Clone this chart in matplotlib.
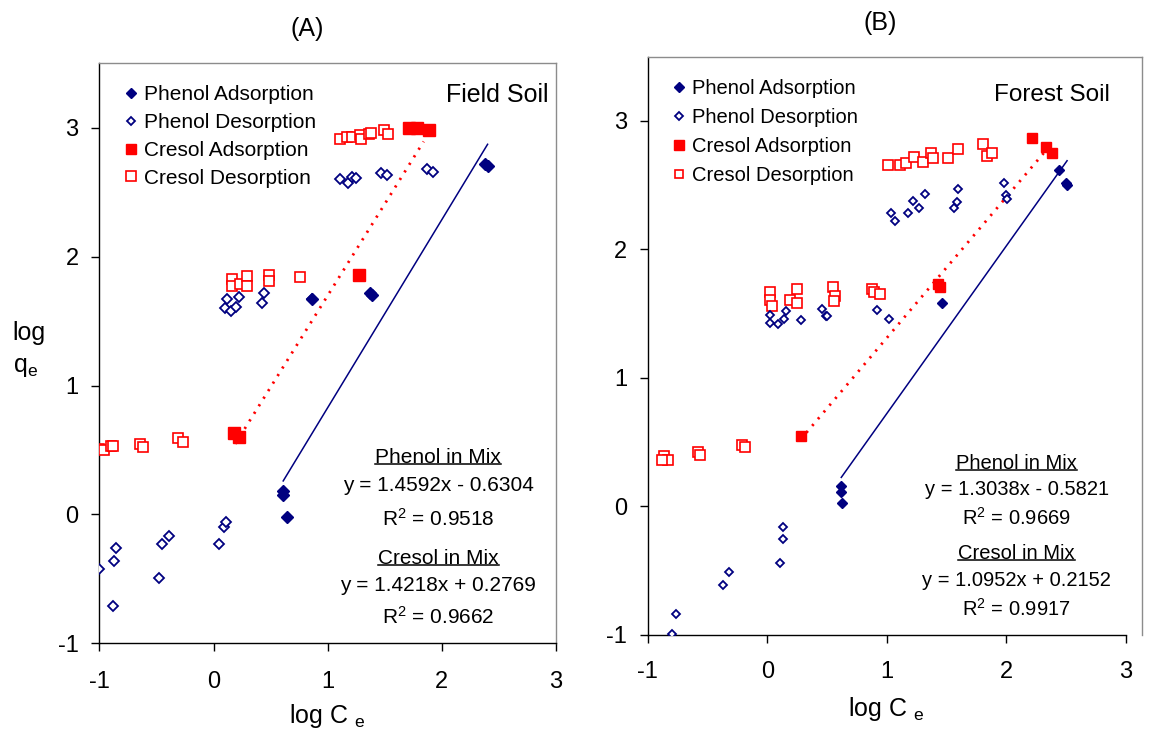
import numpy as np
import matplotlib
matplotlib.use('Agg')
import matplotlib.pyplot as plt
from matplotlib.lines import Line2D

plt.rcParams['font.family'] = ['Liberation Sans', 'DejaVu Sans']
plt.rcParams['mathtext.fontset'] = 'custom'
plt.rcParams['mathtext.rm'] = 'Liberation Sans'
plt.rcParams['mathtext.it'] = 'Liberation Sans:italic'
plt.rcParams['axes.unicode_minus'] = False

NAVY = '#000080'
RED = '#ff0000'

# ---- (A) Field soil ----
a_phenol_ads_x = [2.38, 2.40, 1.37, 1.39, 0.86, 0.61, 0.61, 0.64]
a_phenol_ads_y = [2.72, 2.70, 1.72, 1.70, 1.67, 0.18, 0.15, -0.02]

a_phenol_des_x = [1.11, 1.18, 1.21, 1.25, 1.47, 1.52, 1.87, 1.92,
                  0.12, 0.10, 0.15, 0.20, 0.22, 0.44, 0.42, 0.86,
                  -1.00, -0.85, -0.87, -0.88, -0.48, -0.45, -0.39, 0.05, 0.09, 0.11]
a_phenol_des_y = [2.60, 2.57, 2.62, 2.61, 2.65, 2.63, 2.68, 2.66,
                  1.67, 1.60, 1.58, 1.61, 1.69, 1.72, 1.64, 1.67,
                  -0.42, -0.26, -0.36, -0.71, -0.49, -0.23, -0.17, -0.23, -0.10, -0.06]

a_cresol_ads_x = [0.18, 0.22, 1.27, 1.71, 1.78, 1.89]
a_cresol_ads_y = [0.63, 0.60, 1.86, 3.00, 3.00, 2.98]

a_cresol_des_x = [1.11, 1.17, 1.21, 1.28, 1.29, 1.36, 1.38, 1.49, 1.53,
                  0.16, 0.16, 0.23, 0.29, 0.29, 0.49, 0.49, 0.76,
                  -1.00, -0.96, -0.90, -0.88, -0.64, -0.62, -0.31, -0.27]
a_cresol_des_y = [2.91, 2.93, 2.93, 2.94, 2.91, 2.95, 2.96, 2.98, 2.95,
                  1.83, 1.77, 1.79, 1.85, 1.77, 1.86, 1.81, 1.84,
                  0.51, 0.50, 0.53, 0.53, 0.55, 0.52, 0.59, 0.56]

# fitted lines: slope, intercept, x range
a_phenol_fit = (1.4592, -0.6304, [0.61, 2.40])
a_cresol_fit = (1.4218, 0.2769, [0.19, 1.84])
a_phenol_r2 = 0.9518
a_cresol_r2 = 0.9662

# ---- (B) Forest soil ----
b_phenol_ads_x = [2.44, 2.50, 2.51, 1.46, 0.62, 0.62, 0.63]
b_phenol_ads_y = [2.62, 2.52, 2.50, 1.58, 0.16, 0.11, 0.03]

b_phenol_des_x = [1.04, 1.07, 1.18, 1.22, 1.27, 1.32, 1.56, 1.59, 1.60, 1.98, 2.00, 2.01,
                  0.02, 0.02, 0.09, 0.14, 0.16, 0.28, 0.46, 0.49, 0.50, 0.92, 1.02,
                  0.13, 0.13, 0.11, -0.32, -0.37, -0.76, -0.80]
b_phenol_des_y = [2.28, 2.22, 2.28, 2.38, 2.32, 2.43, 2.32, 2.37, 2.47, 2.52, 2.42, 2.39,
                  1.49, 1.43, 1.42, 1.46, 1.52, 1.45, 1.54, 1.48, 1.48, 1.53, 1.46,
                  -0.16, -0.25, -0.44, -0.51, -0.61, -0.84, -0.99]

b_cresol_ads_x = [2.22, 2.33, 2.38, 1.43, 1.45, 0.28]
b_cresol_ads_y = [2.87, 2.80, 2.75, 1.73, 1.71, 0.55]

b_cresol_des_x = [1.01, 1.11, 1.16, 1.23, 1.30, 1.37, 1.39, 1.51, 1.60, 1.81, 1.84, 1.88,
                  0.02, 0.02, 0.04, 0.19, 0.25, 0.25, 0.55, 0.57, 0.56, 0.88, 0.89, 0.94,
                  -0.86, -0.83, -0.88, -0.58, -0.56, -0.21, -0.19]
b_cresol_des_y = [2.66, 2.66, 2.67, 2.72, 2.68, 2.75, 2.71, 2.71, 2.78, 2.82, 2.73, 2.75,
                  1.67, 1.61, 1.56, 1.61, 1.69, 1.58, 1.71, 1.64, 1.60, 1.69, 1.67, 1.65,
                  0.39, 0.36, 0.36, 0.42, 0.40, 0.48, 0.46]

b_phenol_fit = (1.3038, -0.5821, [0.62, 2.51])
b_cresol_fit = (1.0952, 0.2152, [0.28, 2.33])
b_phenol_r2 = 0.9669
b_cresol_r2 = 0.9917

x_ticks = [-1, 0, 1, 2, 3]
y_ticks = [-1, 0, 1, 2, 3]
tick_labels = ['-1', '0', '1', '2', '3']


def fmt_eq(slope, icpt):
    sign = '-' if icpt < 0 else '+'
    return f'y = {slope:.4f}x {sign} {abs(icpt):.4f}'


fig = plt.figure(figsize=(11.54, 7.43), dpi=100)
ax_a = fig.add_axes([0.0861, 0.1342, 0.3958, 0.7806])
ax_b = fig.add_axes([0.5613, 0.1454, 0.4286, 0.7783])

underlined = []


def draw_panel(ax, pa_x, pa_y, pd_x, pd_y, ca_x, ca_y, cd_x, cd_y,
               pfit, cfit, pr2, cr2, xmax, fs, soil, soil_x, soil_y,
               leg_xy, leg_space, eq_x, eq_y, msz, xpad):
    # fitted lines
    xs = np.array(pfit[2])
    ax.plot(xs, pfit[0] * xs + pfit[1], color=NAVY, lw=1.1, zorder=2)
    xs = np.array(cfit[2])
    ax.plot(xs, cfit[0] * xs + cfit[1], color=RED, lw=2.0, ls=(0, (0.8, 2.4)), zorder=2)

    ax.plot(cd_x, cd_y, ls='none', marker='s', ms=7.8 * msz, mfc='white', mec=RED, mew=1.2,
            label='Cresol Desorption', zorder=3)
    ax.plot(pd_x, pd_y, ls='none', marker='D', ms=5.0 * msz, mfc='white', mec=NAVY, mew=1.3,
            label='Phenol Desorption', zorder=4)
    ax.plot(ca_x, ca_y, ls='none', marker='s', ms=8.5 * msz, color=RED,
            label='Cresol Adsorption', zorder=5)
    ax.plot(pa_x, pa_y, ls='none', marker='D', ms=6.0 * msz, color=NAVY,
            label='Phenol Adsorption', zorder=6)

    ax.set_xlim(-1, xmax)
    ax.set_ylim(-1, 3.5)
    ax.set_xticks(x_ticks)
    ax.set_xticklabels(tick_labels)
    ax.set_yticks(y_ticks)
    ax.set_yticklabels(tick_labels)
    ax.tick_params(axis='both', direction='out', length=6, width=1, labelsize=17, color='black')
    ax.tick_params(axis='x', pad=xpad)
    ax.tick_params(axis='y', pad=9)
    for side in ['left', 'bottom']:
        ax.spines[side].set_color('black')
        ax.spines[side].set_linewidth(1.0)
    for side in ['top', 'right']:
        ax.spines[side].set_color('#8c8c8c')
        ax.spines[side].set_linewidth(1.0)
    ax.spines['bottom'].set_bounds(-1, 3)

    h, l = ax.get_legend_handles_labels()
    order = [3, 1, 2, 0]
    ax.legend([h[i] for i in order], [l[i] for i in order], loc='upper left',
              bbox_to_anchor=leg_xy, frameon=False, fontsize=fs, borderpad=0,
              borderaxespad=0, handlelength=0.6, handletextpad=0.35,
              labelspacing=leg_space, markerscale=0.9)

    ax.text(soil_x, soil_y, soil, transform=ax.transAxes, ha='right', va='center', fontsize=fs + 3)

    t1 = ax.text(eq_x, eq_y[0], 'Phenol in Mix', transform=ax.transAxes, ha='center', va='center', fontsize=fs)
    ax.text(eq_x, eq_y[1], fmt_eq(pfit[0], pfit[1]), transform=ax.transAxes, ha='center', va='center', fontsize=fs)
    ax.text(eq_x, eq_y[2], f'R$^2$ = {pr2:.4f}', transform=ax.transAxes, ha='center', va='center', fontsize=fs)
    t2 = ax.text(eq_x, eq_y[3], 'Cresol in Mix', transform=ax.transAxes, ha='center', va='center', fontsize=fs)
    ax.text(eq_x, eq_y[4], fmt_eq(cfit[0], cfit[1]), transform=ax.transAxes, ha='center', va='center', fontsize=fs)
    ax.text(eq_x, eq_y[5], f'R$^2$ = {cr2:.4f}', transform=ax.transAxes, ha='center', va='center', fontsize=fs)
    underlined.extend([t1, t2])


draw_panel(ax_a, a_phenol_ads_x, a_phenol_ads_y, a_phenol_des_x, a_phenol_des_y,
           a_cresol_ads_x, a_cresol_ads_y, a_cresol_des_x, a_cresol_des_y,
           a_phenol_fit, a_cresol_fit, a_phenol_r2, a_cresol_r2,
           3, 15, 'Field Soil', 0.983, 0.945, (0.055, 0.962), 0.42, 0.742,
           [0.321, 0.272, 0.214, 0.147, 0.100, 0.046], 1.0, 14)

draw_panel(ax_b, b_phenol_ads_x, b_phenol_ads_y, b_phenol_des_x, b_phenol_des_y,
           b_cresol_ads_x, b_cresol_ads_y, b_cresol_des_x, b_cresol_des_y,
           b_phenol_fit, b_cresol_fit, b_phenol_r2, b_cresol_r2,
           3.14, 14.5, 'Forest Soil', 0.935, 0.933, (0.05, 0.962), 0.5, 0.746,
           [0.297, 0.252, 0.203, 0.141, 0.095, 0.045], 0.9, 13)

# titles and axis labels
fig.text(0.266, 0.961, '(A)', ha='center', va='center', fontsize=18)
fig.text(0.763, 0.969, '(B)', ha='center', va='center', fontsize=18)
fig.text(0.284, 0.036, r'log C $_{\mathrm{e}}$', ha='center', va='center', fontsize=18)
fig.text(0.768, 0.046, r'log C $_{\mathrm{e}}$', ha='center', va='center', fontsize=18)
fig.text(0.011, 0.552, 'log', ha='left', va='center', fontsize=18)
fig.text(0.011, 0.506, r'q$_{\mathrm{e}}$', ha='left', va='center', fontsize=18)

# underline the "in Mix" headings
fig.canvas.draw()
renderer = fig.canvas.get_renderer()
inv = fig.transFigure.inverted()
for t in underlined:
    bb = t.get_window_extent(renderer)
    (x0, y0), (x1, _) = inv.transform([[bb.x0, bb.y0 + 3], [bb.x1, bb.y0 + 3]])
    fig.add_artist(Line2D([x0, x1], [y0, y0], transform=fig.transFigure, color='black', lw=1.1))

fig.savefig('out.png', dpi=100)
